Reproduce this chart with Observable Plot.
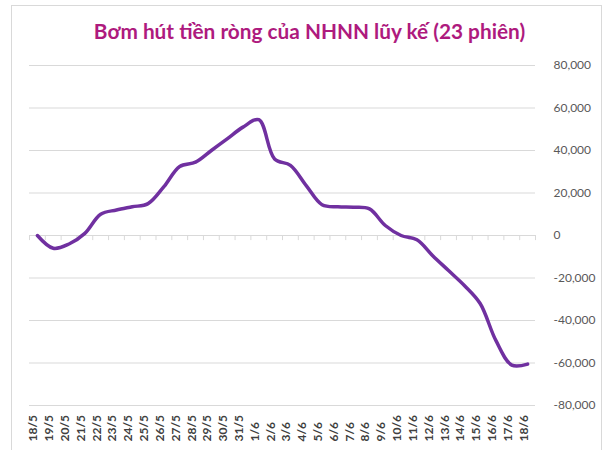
<!DOCTYPE html>
<html><head><meta charset="utf-8">
<script src="https://cdn.jsdelivr.net/npm/d3@7"></script>
<script src="https://cdn.jsdelivr.net/npm/@observablehq/plot@0.6"></script>
<style>
html,body{margin:0;padding:0;background:#fff;overflow:hidden;}
#frame{position:absolute;left:11px;top:5px;width:591px;height:470px;border:1px solid #d9d9d9;box-sizing:border-box;}
#title{position:absolute;left:0;top:20px;width:619px;text-align:center;font:bold 20.8px Lato, sans-serif;line-height:22px;color:#AE1A7E;}
#chart{position:absolute;left:0;top:50px;}
</style></head>
<body>
<div id="frame"></div>
<div id="title">Bơm hút tiền ròng của NHNN lũy kế (23 phiên)</div>
<div id="chart"></div>
<script>
const dates = ["18/5","19/5","20/5","21/5","22/5","23/5","24/5","25/5","26/5","27/5","28/5","29/5","30/5","31/5","1/6","2/6","3/6","4/6","5/6","6/6","7/6","8/6","9/6","10/6","11/6","12/6","13/6","14/6","15/6","16/6","17/6","18/6"];
const values = [0,-6000,-4000,1000,10000,12000,13500,15000,23000,32500,34500,40000,45500,51000,54500,36000,33000,23500,14500,13500,13300,12500,4700,0,-2000,-9500,-16500,-23500,-32000,-49500,-61000,-60500];
const yTicks = [80000,60000,40000,20000,0,-20000,-40000,-60000,-80000];

const data = dates.map((d,i)=>({date:d, value:values[i]}));
const W = 609, ML = 29, MR = 74;
const step = (W - ML - MR) / dates.length;

const chart = Plot.plot({
  width: W, height: 400,
  marginLeft: ML, marginRight: MR, marginTop: 15, marginBottom: 45,
  style: {fontFamily: "Lato, sans-serif", background: "transparent", overflow: "visible"},
  x: {type: "point", domain: dates, padding: 0.5, round: false, axis: null},
  y: {domain: [-80000, 80000], axis: null},
  marks: [
    Plot.gridY(yTicks, {stroke: "#d9d9d9", strokeOpacity: 1, strokeWidth: 1}),
    Plot.ruleY([0], {stroke: "#d9d9d9", strokeWidth: 1}),
    Plot.ruleX(dates, {x: d => d, y1: 0, y2: -2400, stroke: "#d9d9d9", dx: -step/2}),
    Plot.ruleX([dates[dates.length-1]], {x: d => d, y1: 0, y2: -2400, stroke: "#d9d9d9", dx: step/2}),
    Plot.axisY(yTicks, {anchor: "right", label: null, tickSize: 0, tickPadding: 18, tickFormat: d => d.toLocaleString("en-US"), fontSize: 12, fill: "#595959"}),
    Plot.text(dates, {x: d => d, frameAnchor: "bottom", dy: 36, rotate: -90, textAnchor: "start", fontSize: 12, fontWeight: "bold", fill: "#404040"}),
    Plot.line(data, {x: "date", y: "value", stroke: "#7030A0", strokeWidth: 3.5, curve: "catmull-rom", strokeLinecap: "round"})
  ]
});
document.getElementById("chart").appendChild(chart);
</script>
</body></html>
